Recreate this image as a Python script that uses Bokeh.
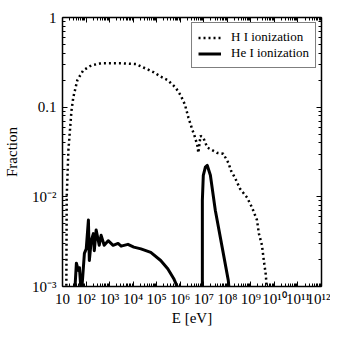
from bokeh.plotting import figure
from bokeh.models import (LogAxis, FixedTicker, CustomJSTickFormatter, Legend,
                          LegendItem, Range1d)
from bokeh.embed import file_html
from bokeh.resources import INLINE

# ---- data ----
hi_energy = [14.5, 15.1, 17.8, 24.0, 28.8, 42.7, 75.9, 166, 437, 3090, 1.32e4,
             3.47e4, 7.59e4, 1.48e5, 2.95e5, 6.31e5, 1.05e6, 1.58e6, 2.24e6,
             3.16e6, 4.17e6, 5.37e6, 5.89e6, 7.24e6, 9.55e6, 1.41e7, 2.29e7,
             3.72e7, 6.76e7, 1.10e8, 1.45e8, 2.14e8, 3.47e8, 6.92e8, 1.12e9,
             1.82e9, 2.19e9, 2.95e9, 3.55e9, 4.37e9, 4.79e9]
hi_fraction = [7.9e-4, 0.010, 0.033, 0.091, 0.129, 0.20, 0.257, 0.292, 0.309,
               0.309, 0.302, 0.269, 0.245, 0.219, 0.20, 0.166, 0.135, 0.107,
               0.076, 0.0575, 0.0468, 0.0372, 0.0309, 0.0479, 0.0457, 0.0355,
               0.0331, 0.0309, 0.0302, 0.024, 0.0195, 0.0162, 0.0123, 0.0098,
               0.0076, 0.0055, 0.0039, 0.0029, 0.00195, 0.00132, 7.9e-4]

hei_energy = [32.4, 38.9, 46.8, 52.5, 63.1, 85.1, 102, 126, 138, 166, 204, 224,
              269, 363, 437, 589, 871, 1410, 2290, 3090, 6030, 1.07e4, 2.14e4,
              5.62e4, 1.48e5, 2.95e5, 5.25e5, 1.10e6,
              8.71e6, 8.71e6, 9.55e6, 1.17e7, 1.41e7, 1.91e7, 3.09e7, 6.03e7,
              1.10e8, 1.26e8]
hei_fraction = [7.9e-4, 1.82e-3, 1.51e-3, 1.62e-3, 7.9e-4, 2.34e-3, 2.63e-3,
                5.5e-3, 1.95e-3, 3.24e-3, 3.89e-3, 2.51e-3, 4.27e-3, 2.88e-3,
                3.72e-3, 2.88e-3, 3.24e-3, 2.88e-3, 3.02e-3, 2.82e-3, 2.95e-3,
                2.75e-3, 2.63e-3, 2.40e-3, 1.95e-3, 1.58e-3, 1.23e-3, 7.9e-4,
                7.9e-4, 9.1e-3, 0.0174, 0.0214, 0.0224, 0.0174, 0.0071,
                0.00275, 0.00117, 7.9e-4]

x_ticks = [1e1, 1e2, 1e3, 1e4, 1e5, 1e6, 1e7, 1e8, 1e9, 1e10, 1e11, 1e12]
x_tick_labels = ["10", "10²", "10³", "10⁴", "10⁵", "10⁶", "10⁷", "10⁸",
                 "10⁹", "10¹⁰", "10¹¹", "10¹²"]
y_ticks = [1e-3, 1e-2, 1e-1, 1.0]
y_tick_labels = ["10⁻³", "10⁻²", "0.1", "1"]

series_labels = ["H I ionization", "He I ionization"]
x_label = "E [eV]"
y_label = "Fraction"

FONT = "Liberation Serif"

x_minor = [m * t for t in x_ticks[:-1] for m in range(2, 10)]
y_minor = [m * t for t in y_ticks[:-1] for m in range(2, 10)]

p = figure(x_axis_type="log", y_axis_type="log",
           x_range=Range1d(1e1, 1e12), y_range=Range1d(1e-3, 1.0),
           frame_width=259, frame_height=269,
           min_border_left=62, min_border_right=9, min_border_top=17,
           min_border_bottom=44,
           output_backend="svg", toolbar_location=None)
p.xgrid.visible = False
p.ygrid.visible = False
p.outline_line_color = None
p.background_fill_color = "white"
p.border_fill_color = "white"

fmt_js = """
let best = 0; let bd = Infinity;
for (let i = 0; i < tvals.length; i++) {
  const d = Math.abs(Math.log10(tick) - Math.log10(tvals[i]));
  if (d < bd) { bd = d; best = i; }
}
return tlabels[best];
"""
x_fmt = CustomJSTickFormatter(args=dict(tvals=x_ticks, tlabels=x_tick_labels), code=fmt_js)
y_fmt = CustomJSTickFormatter(args=dict(tvals=y_ticks, tlabels=y_tick_labels), code=fmt_js)


def style_axis(ax, ticks, minor, show_labels):
    ax.ticker = FixedTicker(ticks=ticks, minor_ticks=minor)
    ax.axis_line_width = 1.5
    ax.axis_line_color = "black"
    ax.major_tick_in = 5
    ax.major_tick_out = 0
    ax.minor_tick_in = 3
    ax.minor_tick_out = 0
    ax.major_tick_line_width = 1
    ax.minor_tick_line_width = 1
    ax.major_tick_line_color = "black"
    ax.minor_tick_line_color = "black"
    if show_labels:
        ax.major_label_text_font = FONT
        ax.major_label_text_font_size = "15px"
        ax.major_label_text_color = "black"
        ax.axis_label_text_font = FONT
        ax.axis_label_text_font_size = "15px"
        ax.axis_label_text_font_style = "normal"
        ax.axis_label_text_color = "black"
    else:
        ax.major_label_text_font_size = "1px"
        ax.major_label_text_alpha = 0
        ax.major_label_standoff = 0


xa = p.xaxis[0]
ya = p.yaxis[0]
xa.formatter = x_fmt
ya.formatter = y_fmt
style_axis(xa, x_ticks, x_minor, True)
style_axis(ya, y_ticks, y_minor, True)
xa.axis_label = x_label
ya.axis_label = y_label
xa.major_label_standoff = 4
ya.major_label_standoff = 6
xa.axis_label_standoff = 0
ya.axis_label_standoff = 9

top = LogAxis()
right = LogAxis()
style_axis(top, x_ticks, x_minor, False)
style_axis(right, y_ticks, y_minor, False)
p.add_layout(top, "above")
p.add_layout(right, "right")

r_hi = p.line(hi_energy, hi_fraction, line_color="black", line_width=2.5,
              line_dash="2 3")
r_hei = p.line(hei_energy, hei_fraction, line_color="black", line_width=3,
               line_join="round")

legend = Legend(items=[LegendItem(label=series_labels[0], renderers=[r_hi]),
                       LegendItem(label=series_labels[1], renderers=[r_hei])],
                location="top_right")
legend.margin = 5
legend.padding = 6
legend.spacing = 0
legend.glyph_width = 23
legend.glyph_height = 15
legend.label_height = 15
legend.label_standoff = 10
legend.label_text_font = FONT
legend.label_text_font_size = "13px"
legend.label_text_color = "black"
legend.border_line_color = "black"
legend.border_line_width = 1
legend.background_fill_alpha = 1
p.add_layout(legend)

open("out.html", "w").write(file_html(p, INLINE))
